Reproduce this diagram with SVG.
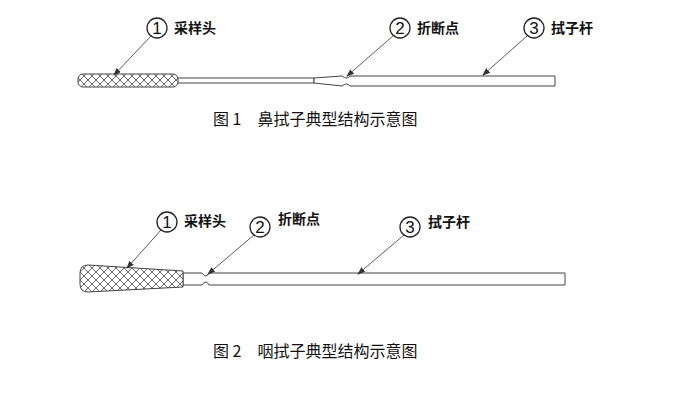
<svg xmlns="http://www.w3.org/2000/svg" width="677" height="417" viewBox="0 0 677 417">
<style>
.o{fill:#fff;stroke:#444;stroke-width:1}
.h{fill:url(#hat);stroke:#444;stroke-width:1}
.c{fill:#fff;stroke:#222;stroke-width:1.3}
.n{font-family:"Liberation Sans",sans-serif;font-size:17px;fill:#111;text-anchor:middle}
.t{font-family:"Noto Sans CJK SC",sans-serif;font-size:14px;font-weight:bold;fill:#111}
.cap{font-family:"Noto Sans CJK SC",sans-serif;font-size:16px;fill:#111}
.l{stroke:#333;stroke-width:0.8;fill:none;marker-end:url(#a)}
</style>
<defs>
<pattern id="hat" width="8" height="8" patternUnits="userSpaceOnUse">
<rect width="8" height="8" fill="#fff"/>
<path d="M0 0L8 8M8 0L0 8" stroke="#444" stroke-width="0.8"/>
</pattern>
<marker id="a" markerWidth="8" markerHeight="6" refX="7" refY="3" orient="auto" markerUnits="userSpaceOnUse">
<path d="M0 0L8 3L0 6z" fill="#333"/>
</marker>
</defs>
<g id="swab1">
<rect class="o" x="177" y="78" width="137" height="5"/>
<path class="o" d="M314 78L342 76Q347 80 350 76L555 76L555 86L350 86Q347 82 342 86L314 83z"/>
<rect class="h" x="78" y="74" width="100" height="13" rx="5"/>
</g>
<g id="swab2">
<path class="o" d="M183 273L202 273Q206 279 209 273L565 273L565 285L209 285Q206 279 202 285L183 285z"/>
<path class="h" d="M88 265L183 271L183 287L88 292Q80 292 80 284L80 273Q80 265 88 265z"/>
</g>
<g id="labels1">
<circle class="c" cx="157" cy="28" r="10"/><text class="n" x="157" y="34">1</text><text class="t" x="174" y="33">采样头</text>
<circle class="c" cx="400" cy="28" r="10"/><text class="n" x="400" y="34">2</text><text class="t" x="417" y="33">折断点</text>
<circle class="c" cx="534" cy="28" r="10"/><text class="n" x="534" y="34">3</text><text class="t" x="551" y="33">拭子杆</text>
</g>
<g id="labels2">
<circle class="c" cx="167" cy="222" r="10"/><text class="n" x="167" y="228">1</text><text class="t" x="184" y="226">采样头</text>
<circle class="c" cx="260" cy="227" r="10"/><text class="n" x="260" y="233">2</text><text class="t" x="278" y="224">折断点</text>
<circle class="c" cx="410" cy="227" r="10"/><text class="n" x="410" y="233">3</text><text class="t" x="428" y="227">拭子杆</text>
</g>
<g id="connectors">
<line class="l" x1="151" y1="36" x2="114" y2="75"/>
<line class="l" x1="393" y1="36" x2="347" y2="76"/>
<line class="l" x1="527" y1="36" x2="483" y2="75"/>
<line class="l" x1="161" y1="230" x2="127" y2="268"/>
<line class="l" x1="254" y1="235" x2="208" y2="274"/>
<line class="l" x1="404" y1="235" x2="358" y2="274"/>
</g>
<text class="cap" x="213" y="125">图 1　鼻拭子典型结构示意图</text>
<text class="cap" x="213" y="357">图 2　咽拭子典型结构示意图</text>
</svg>
